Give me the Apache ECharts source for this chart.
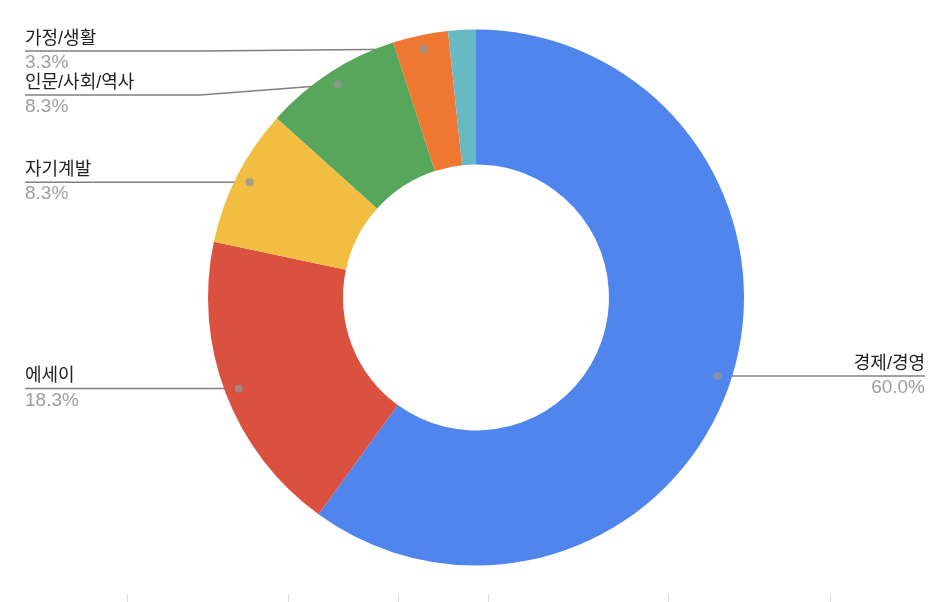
<!DOCTYPE html>
<html><head><meta charset="utf-8">
<script src="https://cdn.jsdelivr.net/npm/echarts@6/dist/echarts.min.js"></script>
<style>html,body{margin:0;padding:0;background:#fff;}#c{width:938px;height:602px;}</style>
</head><body><div id="c"></div>
<script>
const categories = ['경제/경영', '에세이', '자기계발', '인문/사회/역사', '가정/생활', '기타'];
const values = [36, 11, 5, 5, 2, 1];
const colors = ['#5085ed', '#da5140', '#f1be42', '#58a65c', '#ee7731', '#67bac5'];

const FONT = 'Arial, "Liberation Sans", "Noto Sans CJK KR", sans-serif';
const cx = 476, cy = 297.5, R = 268, R0 = 133, dotR = 254;
const total = values.reduce((a, b) => a + b, 0);

const mids = [];
let acc = 0;
values.forEach(v => { mids.push(acc + v / 2); acc += v; });
const showLabel = values.map(v => v / total >= 0.02);

function dotPos(i) {
  const a = mids[i] / total * 2 * Math.PI;
  return [cx + dotR * Math.sin(a), cy - dotR * Math.cos(a)];
}

const labelY = {};
const blockH = 44;
const minY = 51;
const leftIdx = [], rightIdx = [];
values.forEach((v, i) => {
  if (!showLabel[i]) return;
  const p = dotPos(i);
  (p[0] < cx ? leftIdx : rightIdx).push(i);
});
[leftIdx, rightIdx].forEach(list => {
  list.sort((a, b) => dotPos(a)[1] - dotPos(b)[1]);
  let prev = minY - blockH;
  list.forEach(i => {
    const y = Math.max(dotPos(i)[1], prev + blockH);
    labelY[i] = y; prev = y;
  });
});

const pieData = categories.map((n, i) => ({
  name: n, value: values[i],
  itemStyle: { color: colors[i] },
  label: { show: showLabel[i] },
  labelLine: { show: showLabel[i] }
}));

const dotData = values.map((v, i) => showLabel[i] ? [dotR, mids[i]] : null).filter(d => d);

const chart = echarts.init(document.getElementById('c'), null, { renderer: 'canvas' });
chart.setOption({
  animation: false,
  backgroundColor: '#ffffff',
  polar: { center: [cx, cy], radius: R },
  angleAxis: { type: 'value', min: 0, max: total, startAngle: 90, clockwise: true, show: false },
  radiusAxis: { type: 'value', min: 0, max: R, show: false },
  series: [{
    type: 'pie',
    center: [cx, cy],
    radius: [R0, R],
    startAngle: 90,
    clockwise: true,
    avoidLabelOverlap: false,
    itemStyle: { borderWidth: 0 },
    label: {
      position: 'outside',
      fontFamily: FONT,
      formatter: p => '{n|' + p.name + '}\n{p|' + (p.value / total * 100).toFixed(1) + '%}',
      rich: {
        n: { fontFamily: FONT, fontSize: 18, color: '#222222', lineHeight: 24 },
        p: { fontFamily: FONT, fontSize: 19, color: '#9e9e9e', lineHeight: 24 }
      }
    },
    labelLine: { show: true, lineStyle: { color: '#808080', width: 1.6 } },
    labelLayout: function (params) {
      const i = params.dataIndex;
      if (!showLabel[i]) return {};
      const d = dotPos(i);
      const y = labelY[i];
      if (d[0] < cx) {
        return { x: 25, y: y, align: 'left', verticalAlign: 'middle',
          labelLinePoints: [d, [200, y], [25, y]] };
      } else {
        return { x: 925, y: y, align: 'right', verticalAlign: 'middle',
          labelLinePoints: [d, [738, y], [925, y]] };
      }
    },
    data: pieData
  }, {
    type: 'scatter',
    coordinateSystem: 'polar',
    symbol: 'circle',
    symbolSize: 8,
    itemStyle: { color: '#959595' },
    z: 5,
    silent: true,
    data: dotData
  }],
  graphic: [127, 288, 398, 488, 668, 830].map(x => ({
    type: 'line', shape: { x1: x + 0.5, y1: 594, x2: x + 0.5, y2: 602 },
    style: { stroke: '#dddddd', lineWidth: 1 }, silent: true
  }))
});
</script></body></html>
